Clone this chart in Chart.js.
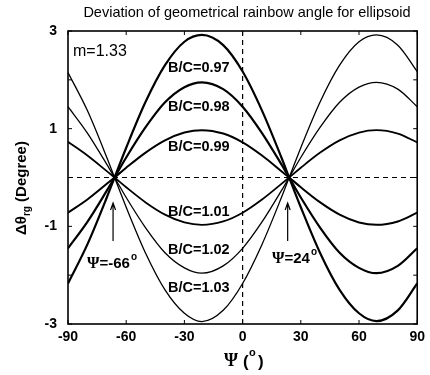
<!DOCTYPE html>
<html>
<head>
<meta charset="utf-8">
<script src="https://cdn.jsdelivr.net/npm/chart.js@4/dist/chart.umd.min.js"></script>
<style>
  html, body { margin: 0; padding: 0; background: #fff; }
  #wrap { width: 430px; height: 375px; }
</style>
</head>
<body>
<div id="wrap"><canvas id="rainbow" width="430" height="375"></canvas></div>
<script>
// Deviation angle (degree) against orientation Psi (degree), one list per axis ratio
const psi = [-90, -80, -70, -66, -60, -50, -40, -30, -21, -10, 0, 10, 20, 24, 30, 40, 50, 60, 69, 80, 90];
const bc097 = [-2.17, -1.37, -0.41, 0, 0.61, 1.55, 2.30, 2.78, 2.92, 2.71, 2.17, 1.37, 0.41, 0, -0.61, -1.55, -2.30, -2.78, -2.94, -2.72, -2.17];
const bc098 = [-1.45, -0.91, -0.27, 0, 0.41, 1.03, 1.54, 1.85, 1.95, 1.81, 1.45, 0.91, 0.27, 0, -0.41, -1.03, -1.54, -1.85, -1.96, -1.81, -1.45];
const bc099 = [-0.72, -0.45, -0.13, 0, 0.20, 0.51, 0.76, 0.92, 0.97, 0.90, 0.72, 0.45, 0.13, 0, -0.20, -0.51, -0.76, -0.92, -0.97, -0.90, -0.72];
const bc101 = [0.73, 0.45, 0.13, 0, -0.20, -0.51, -0.76, -0.92, -0.97, -0.90, -0.72, -0.45, -0.13, 0, 0.20, 0.51, 0.76, 0.92, 0.97, 0.90, 0.72];
const bc102 = [1.45, 0.91, 0.27, 0, -0.41, -1.03, -1.54, -1.85, -1.96, -1.81, -1.45, -0.91, -0.27, 0, 0.41, 1.03, 1.54, 1.85, 1.95, 1.81, 1.45];
const bc103 = [2.15, 1.37, 0.41, 0, -0.61, -1.55, -2.30, -2.78, -2.95, -2.72, -2.17, -1.37, -0.41, 0, 0.61, 1.55, 2.30, 2.78, 2.92, 2.71, 2.17];

const seriesNames = ['B/C=0.97', 'B/C=0.98', 'B/C=0.99', 'B/C=1.01', 'B/C=1.02', 'B/C=1.03'];
const seriesValues = [bc097, bc098, bc099, bc101, bc102, bc103];
const seriesWidths = [2.2, 2.2, 2, 1.8, 1.3, 1.3];

const xTicks = [-90, -60, -30, 0, 30, 60, 90];
const yTicks = [-3, -2, -1, 0, 1, 2, 3];
const yTickLabels = ['-3', '', '-1', '', '1', '', '3'];
const crossPoints = [-66, 24];

const SANS = '"Liberation Sans", Arial, sans-serif';
const SERIF = '"Liberation Serif", "Times New Roman", serif';

function buildDatasets() {
  return seriesValues.map(function (vals, i) {
    return {
      label: seriesNames[i],
      data: psi.map(function (p, j) { return { x: p, y: vals[j] }; }),
      borderColor: '#000',
      borderWidth: seriesWidths[i],
      pointRadius: 0,
      fill: false,
      cubicInterpolationMode: 'monotone'
    };
  });
}

// writes "Ψ=..." with a serif Psi and a raised degree ring
function psiLabel(ctx, text, x, y) {
  ctx.font = 'bold 16px ' + SERIF;
  ctx.fillText('\u03A8', x, y);
  let w = ctx.measureText('\u03A8').width;
  ctx.font = 'bold 15px ' + SANS;
  ctx.fillText(text, x + w, y);
  w += ctx.measureText(text).width;
  ctx.font = 'bold 10px ' + SANS;
  ctx.fillText('o', x + w + 1, y - 7);
}

// text, frame, dashed zero lines and arrows drawn on the canvas
const decorations = {
  id: 'decorations',
  beforeDatasetsDraw: function (chart) {
    const ctx = chart.ctx;
    const a = chart.chartArea;
    const xs = chart.scales.x, ys = chart.scales.y;
    ctx.save();
    ctx.strokeStyle = '#000';
    ctx.lineWidth = 1.2;
    ctx.setLineDash([5, 4]);
    const y0 = ys.getPixelForValue(0);
    const x0 = xs.getPixelForValue(0);
    ctx.beginPath();
    ctx.moveTo(a.left, y0); ctx.lineTo(a.right, y0);
    ctx.moveTo(x0, a.top); ctx.lineTo(x0, a.bottom);
    ctx.stroke();
    ctx.restore();
  },
  afterDraw: function (chart) {
    const ctx = chart.ctx;
    const a = chart.chartArea;
    const xs = chart.scales.x, ys = chart.scales.y;
    ctx.save();
    ctx.strokeStyle = '#000';
    ctx.fillStyle = '#000';

    // frame
    ctx.lineWidth = 1.6;
    ctx.strokeRect(a.left, a.top, a.right - a.left, a.bottom - a.top);

    // inward tick marks
    ctx.lineWidth = 1;
    ctx.beginPath();
    xTicks.forEach(function (v) {
      const px = xs.getPixelForValue(v);
      ctx.moveTo(px, a.bottom); ctx.lineTo(px, a.bottom - 4);
      ctx.moveTo(px, a.top); ctx.lineTo(px, a.top + 4);
    });
    yTicks.forEach(function (v) {
      const py = ys.getPixelForValue(v);
      ctx.moveTo(a.left, py); ctx.lineTo(a.left + 4, py);
      ctx.moveTo(a.right, py); ctx.lineTo(a.right - 4, py);
    });
    ctx.stroke();

    // title
    ctx.font = '14.5px ' + SANS;
    ctx.textAlign = 'center';
    ctx.textBaseline = 'middle';
    ctx.fillText('Deviation of geometrical rainbow angle for ellipsoid', 247, 13);

    // refractive index
    ctx.font = '16px ' + SANS;
    ctx.textAlign = 'left';
    ctx.fillText('m=1.33', 73, 52);

    // curve labels
    ctx.font = 'bold 14.5px ' + SANS;
    const labelY = [68, 107, 147, 212, 250, 288];
    seriesNames.forEach(function (n, i) {
      ctx.fillText(n, 168, labelY[i]);
    });

    // arrows pointing at the crossing points
    ctx.lineWidth = 1.2;
    crossPoints.forEach(function (p) {
      const px = xs.getPixelForValue(p) - 1.5;
      ctx.beginPath();
      ctx.moveTo(px, 241); ctx.lineTo(px, 204);
      ctx.moveTo(px - 2.5, 210); ctx.lineTo(px, 203); ctx.lineTo(px + 2.5, 210);
      ctx.stroke();
    });

    // crossing point labels
    psiLabel(ctx, '=-66', 87, 264);
    psiLabel(ctx, '=24', 272, 259);

    // x axis title
    ctx.font = 'bold 18px ' + SERIF;
    ctx.fillText('\u03A8', 224, 361);
    ctx.font = 'bold 17px ' + SANS;
    ctx.fillText('(  )', 243, 362);
    ctx.font = 'bold 11px ' + SANS;
    ctx.fillText('o', 249, 353);

    // y axis title, rotated
    ctx.translate(22, 188);
    ctx.rotate(-Math.PI / 2);
    ctx.textAlign = 'left';
    const main = '\u0394\u03B8';
    const rest = ' (Degree)';
    ctx.font = 'bold 15px ' + SANS;
    const w1 = ctx.measureText(main).width;
    ctx.font = 'bold 10px ' + SANS;
    const w2 = ctx.measureText('rg').width;
    ctx.font = 'bold 15px ' + SANS;
    const w3 = ctx.measureText(rest).width;
    const sx = -(w1 + w2 + w3) / 2;
    ctx.fillText(main, sx, 0);
    ctx.font = 'bold 10px ' + SANS;
    ctx.fillText('rg', sx + w1, 5);
    ctx.font = 'bold 15px ' + SANS;
    ctx.fillText(rest, sx + w1 + w2, 0);
    ctx.restore();
  }
};

new Chart(document.getElementById('rainbow'), {
  type: 'line',
  data: { datasets: buildDatasets() },
  plugins: [decorations],
  options: {
    responsive: false,
    animation: false,
    layout: { padding: { top: 31, right: 7, left: 0, bottom: 0 } },
    plugins: {
      legend: { display: false },
      tooltip: { enabled: false },
      title: { display: false }
    },
    scales: {
      x: {
        type: 'linear',
        min: -90,
        max: 90,
        afterFit: function (s) { s.height = 51; },
        afterBuildTicks: function (s) { s.ticks = xTicks.map(function (v) { return { value: v }; }); },
        grid: { display: false, drawTicks: false },
        border: { display: false },
        ticks: {
          color: '#000',
          padding: 5,
          maxRotation: 0,
          autoSkip: false,
          font: { family: SANS, size: 14, weight: 'bold' }
        }
      },
      y: {
        type: 'linear',
        min: -3,
        max: 3,
        afterFit: function (s) { s.width = 68; },
        afterBuildTicks: function (s) { s.ticks = yTicks.map(function (v) { return { value: v }; }); },
        grid: { display: false, drawTicks: false },
        border: { display: false },
        ticks: {
          color: '#000',
          padding: 11,
          autoSkip: false,
          font: { family: SANS, size: 14, weight: 'bold' },
          callback: function (v) { return yTickLabels[yTicks.indexOf(v)]; }
        }
      }
    }
  }
});
</script>
</body>
</html>
